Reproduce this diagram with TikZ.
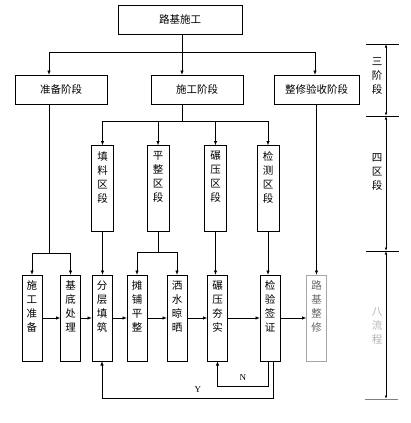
\documentclass[tikz,border=0pt]{standalone}
\usepackage{fontspec}
\setmainfont{Noto Sans CJK SC}
\newfontfamily\yesno{Liberation Serif}
\usetikzlibrary{positioning,arrows.meta}
\newcommand{\vtxt}[1]{\parbox[c][80pt][t]{14pt}{\centering\vspace*{3pt}#1}}

\begin{document}
\begin{tikzpicture}[x=1pt,y=-1pt,line width=.8pt,>={Latex[length=4.5pt,width=3.5pt]}
  ]
% Box and text styles
\tikzstyle{stage}=[draw=black,minimum width=92pt,minimum height=29pt,inner sep=0pt,outer sep=0pt,font=\fontsize{10.5}{13}\selectfont]
\tikzstyle{part}=[draw=black,inner sep=3pt,outer sep=0pt,minimum width=22pt,font=\fontsize{10.5}{14}\selectfont]
\tikzstyle{flow}=[draw=black,inner sep=3pt,outer sep=0pt,minimum width=18pt,font=\fontsize{10.5}{14}\selectfont]
\tikzstyle{span}=[align=center,font=\fontsize{10.5}{14}\selectfont]
\tikzstyle{yn}=[font=\yesno\fontsize{9}{10}\selectfont,inner sep=2pt]

\useasboundingbox (0,0) rectangle (411,423);

% Blocks
\node[stage,minimum width=124pt] (top) at (180,19.5) {路基施工};
\node[stage] (prep) at (61,89.5) {准备阶段};
\node[stage] (cons) at (197,89.5) {施工阶段};
\node[stage,minimum width=85pt] (fin) at (316.5,89.5) {整修验收阶段};

% Sections
\node[part] (s1) at (102.5,188.5) {\vtxt{填\\料\\区\\段}};
\node[part] (s2) at (158,188.5) {\vtxt{平\\整\\区\\段}};
\node[part] (s3) at (215.5,188.5) {\vtxt{碾\\压\\区\\段}};
\node[part] (s4) at (268,188.5) {\vtxt{检\\测\\区\\段}};

% Process steps
\node[flow] (p1) at (32,318) {\vtxt{施\\工\\准\\备}};
\node[flow] (p2) at (70.5,318) {\vtxt{基\\底\\处\\理}};
\node[flow] (p3) at (102,318) {\vtxt{分\\层\\填\\筑}};
\node[flow] (p4) at (137,318) {\vtxt{摊\\铺\\平\\整}};
\node[flow] (p5) at (177,318) {\vtxt{洒\\水\\晾\\晒}};
\node[flow] (p6) at (217.5,318) {\vtxt{碾\\压\\夯\\实}};
\node[flow] (p7) at (270,318) {\vtxt{检\\验\\签\\证}};
\node[flow,draw=gray!70,text=black!60] (p8) at (316.5,318) {\vtxt{路\\基\\整\\修}};

% Tree connectors
\draw ([xshift=2pt]top.south) -- ++(0,18) coordinate (j1);
\draw[->] (j1) -| ([xshift=-12pt]prep.north);
\draw[->] (j1) -- (j1 |- cons.north);
\draw[->] (j1) -| ([xshift=-1.5pt]fin.north);

\draw ([xshift=-15pt]cons.south) -- ++(0,17) coordinate (j2);
\foreach \i in {1,...,4}
\draw[->] (j2) -| (s\i.north);

\draw ([xshift=-12pt]prep.south) -- ++(0,149) coordinate (j3);
\draw[->] (j3) -| (p1.north);
\draw[->] (j3) -| (p2.north);
\draw[->] (s1.south) -- (s1.south |- p3.north);
\draw (s2.south) -- ++(0,21) coordinate (j4);
\draw[->] (j4) -| (p4.north);
\draw[->] (j4) -| (p5.north);
\draw[->] (s3.south) -- (s3.south |- p6.north);
\draw[->] (s4.south) -- (s4.south |- p7.north);
\draw[->] (fin.south -| p8) -- (p8.north);

% Flow arrows
\foreach \a/\b in {1/2,2/3,3/4,4/5,5/6,6/7,7/8}
\draw[->] (p\a) -- (p\b);

% Feedback
\draw[->] ([xshift=-2pt]p7.south) -- ++(0,25) -| (p6.south) node[yn,pos=.25,above=3pt] {N};
\draw[->] ([xshift=3pt]p7.south) -- ++(0,37) -| (p3.south) node[yn,pos=.22,above=3pt] {Y};

% Dimension line
\coordinate (d1) at (386,44);
\coordinate (d2) at (386,116);
\coordinate (d3) at (386,251);
\coordinate (d4) at (386,399);
\foreach \d in {1,2,3}
\draw ([xshift=-20pt]d\d) -- ([xshift=13pt]d\d);
\draw[gray] ([xshift=-21pt]d4) -- ([xshift=12pt]d4);
\draw[<->,>={Latex[length=3.5pt,width=2.5pt]}] (d1) -- (d2);
\draw[<->,>={Latex[length=3.5pt,width=2.5pt]}] (d2) -- (d3);
\draw[<->,>={Latex[length=3.5pt,width=2.5pt]}] (d3) -- (d4);
\node[span] (lv1) at (377,76) {三\\阶\\段};
\node[span] (lv2) at (377,172) {四\\区\\段};
\node[span,text=gray!60] (lv3) at (377,326) {八\\流\\程};
%---------------------
\end{tikzpicture}
\end{document}
